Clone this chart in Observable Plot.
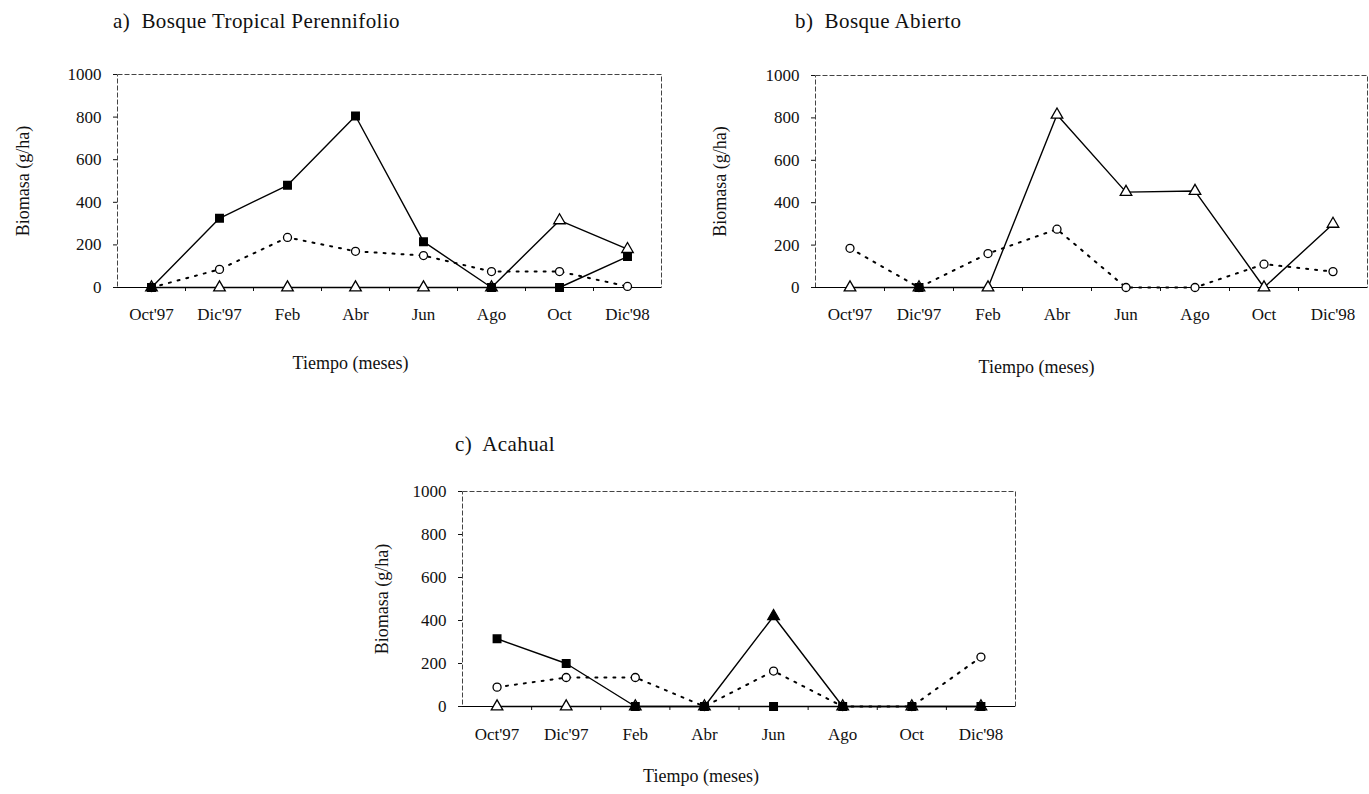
<!DOCTYPE html>
<html><head><meta charset="utf-8">
<script src="https://cdn.jsdelivr.net/npm/d3@7"></script>
<script src="https://cdn.jsdelivr.net/npm/@observablehq/plot@0.6"></script>
<style>
body{margin:0;background:#fff;}
#wrap{position:relative;width:1369px;height:794px;overflow:hidden;font-family:"Liberation Serif",serif;color:#111;background:#fff}
.panel{position:absolute}
.title{position:absolute;font-size:21px;letter-spacing:0.4px;white-space:pre;line-height:1}
</style></head><body><div id="wrap"></div>
<script>
const months = ["Oct'97","Dic'97","Feb","Abr","Jun","Ago","Oct","Dic'98"];
const yTicks = [0,200,400,600,800,1000];
const titles = ["a)  Bosque Tropical Perennifolio","b)  Bosque Abierto","c)  Acahual"];
const yTitle = "Biomasa (g/ha)";
const xTitle = "Tiempo (meses)";
// a) Bosque Tropical Perennifolio
const aSquares   = [0,325,480,805,215,0,0,145];
const aCircles   = [0,85,235,170,150,75,75,5];
const aTriangles = [0,0,0,0,0,0,315,180];
// b) Bosque Abierto
const bSquares   = [null,0,null,null,null,null,null,null];
const bCircles   = [185,0,160,275,0,0,110,75];
const bTriangles = [0,0,0,815,450,455,0,300];
// c) Acahual
const cSquares   = [315,200,0,0,0,0,0,0];
const cCircles   = [90,135,135,0,165,0,0,230];
const cTriangles = [0,0,0,0,420,0,0,0];

const toRows = arr => arr.map((v,i)=>({i, v}));

function makePanel(sq, ci, tr, o){
  const S = toRows(sq), C = toRows(ci), T = toRows(tr);
  const def = d => d.v != null;
  return Plot.plot({
    width: o.W, height: o.H,
    marginLeft: o.ml, marginRight: o.mr, marginTop: o.mt, marginBottom: o.mb,
    style: {fontFamily: "'Liberation Serif', serif", fontSize: "17px", color: "#111", background: "white", overflow: "visible"},
    x: {type: "linear", domain: [-0.5, 7.5]},
    y: {domain: [0, 1000]},
    marks: [
      Plot.frame({stroke: "#444", strokeDasharray: "5,2", strokeWidth: 1}),
      Plot.axisY({ticks: yTicks, tickSize: 4, tickPadding: 12, tickFormat: d => String(d), label: null, fontSize: 17}),
      Plot.axisX({ticks: d3.range(months.length), tickSize: 0, tickPadding: o.tp, tickFormat: i => months[i], label: null, fontSize: 17}),
      Plot.axisX({ticks: d3.range(months.length - 1).map(i => i + 0.5), tickSize: 4, tickFormat: () => "", label: null}),
      Plot.text([yTitle], {frameAnchor: "left", textAnchor: "middle", lineAnchor: "middle", rotate: -90, dx: -o.yx, fontSize: 18, fill: "#111"}),
      Plot.text([xTitle], {frameAnchor: "bottom", textAnchor: "middle", lineAnchor: "middle", dx: o.xdx, dy: o.xdy, fontSize: 18, fill: "#111"}),
      Plot.ruleY([0], {stroke: "black", strokeWidth: 1.2}),
      Plot.line(C.filter(def), {x: "i", y: "v", stroke: "black", strokeWidth: 2, strokeDasharray: "2,7"}),
      Plot.line(S.filter(def), {x: "i", y: "v", stroke: "black", strokeWidth: 1.4}),
      Plot.line(T.filter(def), {x: "i", y: "v", stroke: "black", strokeWidth: 1.4}),
      Plot.dot(C.filter(def), {x: "i", y: "v", r: 4, fill: "white", stroke: "black", strokeWidth: 1.3}),
      Plot.dot(T.filter(def), {x: "i", y: "v", symbol: "triangle", r: 4.3, fill: o.triFill || "white", stroke: "black", strokeWidth: 1.3}),
      Plot.dot(S.filter(def), {x: "i", y: "v", symbol: "square", r: 4.2, fill: "black", stroke: "black"})
    ]
  });
}

const wrap = document.getElementById("wrap");
function place(el, left, top){
  const d = document.createElement("div");
  d.className = "panel"; d.style.left = left + "px"; d.style.top = top + "px";
  d.appendChild(el); wrap.appendChild(d);
}
function title(txt, left, top){
  const d = document.createElement("div");
  d.className = "title"; d.textContent = txt;
  d.style.left = left + "px"; d.style.top = top + "px";
  wrap.appendChild(d);
}

place(makePanel(aSquares, aCircles, aTriangles, {W: 700, H: 400, ml: 117, mr: 39, mt: 74, mb: 113, tp: 20, yx: 94, xdx: -39, xdy: 76}), 0, 0);
place(makePanel(bSquares, bCircles, bTriangles, {W: 669, H: 400, ml: 115, mr: 2, mt: 75, mb: 113, tp: 20, yx: 95, xdx: -55, xdy: 80}), 700, 0);
place(makePanel(cSquares, cCircles, cTriangles, {W: 700, H: 374, ml: 122, mr: 25, mt: 71, mb: 88, tp: 21, yx: 80, xdx: -38, xdy: 70, triFill: d => d.v > 0 ? "black" : "white"}), 340, 420);

title(titles[0], 113, 11);
title(titles[1], 795, 11);
title(titles[2], 455, 434);
</script></body></html>
